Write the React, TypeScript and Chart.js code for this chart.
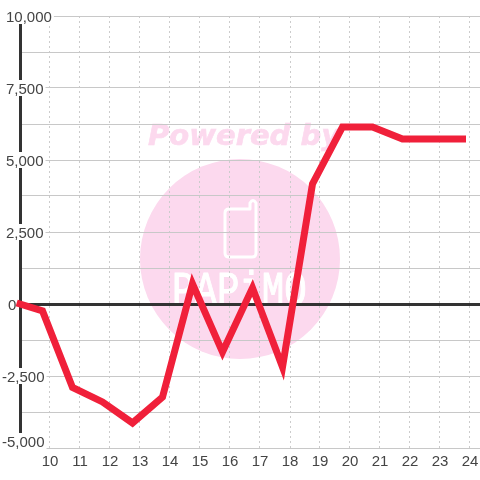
import React, { useEffect, useRef } from "react";
import { Chart, registerables } from "chart.js";

Chart.register(...registerables);

const hours = [9, 9.75, 10.75, 11.75, 12.75, 13.75, 14.75, 15.75, 16.75, 17.75, 18.75, 19.75, 20.75, 21.75, 22.75, 23.75];
const values = [0, -240, -2900, -3400, -4130, -3230, 700, -1670, 560, -2190, 4170, 6150, 6150, 5730, 5730, 5730];
const labelledValues = [10000, 7500, 5000, 2500, 0, -2500, -5000];
const xTicks = [10, 11, 12, 13, 14, 15, 16, 17, 18, 19, 20, 21, 22, 23, 24];

const TEXT = "#444444";
const FONT = "15px 'Liberation Sans'";
const PINK = "#fcd9ee";

const watermark = {
  id: "watermark",
  beforeDraw(chart: any) {
    const c = chart.ctx;
    c.save();
    c.fillStyle = PINK;
    c.strokeStyle = PINK;
    c.lineWidth = 0.6;
    c.font = "italic bold 29px 'DejaVu Sans'";
    c.textAlign = "left";
    c.textBaseline = "alphabetic";
    c.fillText("Powered by", 148, 145);
    c.strokeText("Powered by", 148, 145);
    c.beginPath();
    c.arc(240, 259, 100, 0, Math.PI * 2);
    c.fill();
    c.strokeStyle = "#ffffff";
    c.lineWidth = 3;
    c.lineJoin = "round";
    c.beginPath();
    c.moveTo(229, 209);
    c.lineTo(250, 209);
    c.lineTo(250, 203);
    c.quadraticCurveTo(253, 198, 256, 203);
    c.lineTo(256, 253);
    c.quadraticCurveTo(256, 257, 252, 257);
    c.lineTo(229, 257);
    c.quadraticCurveTo(225, 257, 225, 253);
    c.lineTo(225, 213);
    c.quadraticCurveTo(225, 209, 229, 209);
    c.stroke();
    c.fillStyle = "#ffffff";
    c.lineWidth = 1;
    c.translate(172, 305);
    c.scale(0.78, 1);
    c.font = "48px 'Liberation Mono'";
    c.fillText("PAPiMO", 0, 0);
    c.strokeText("PAPiMO", 0, 0);
    c.restore();
  },
};

const yAxisLine = {
  id: "yAxisLine",
  beforeDatasetsDraw(chart: any) {
    const c = chart.ctx;
    const a = chart.chartArea;
    c.save();
    c.strokeStyle = "#333333";
    c.lineWidth = 3;
    c.beginPath();
    c.moveTo(a.left + 0.5, a.top);
    c.lineTo(a.left + 0.5, a.bottom);
    c.stroke();
    c.restore();
  },
};

const yLabels = {
  id: "yLabels",
  afterDraw(chart: any) {
    const c = chart.ctx;
    const scale = chart.scales.y;
    c.save();
    c.font = FONT;
    c.textBaseline = "middle";
    c.textAlign = "left";
    for (const v of labelledValues) {
      const text = v.toLocaleString("en-US");
      const x = v < 0 ? 2 : v === 0 ? 8 : 6;
      const y = scale.getPixelForValue(v) + (v === scale.min ? -7 : 0);
      const w = c.measureText(text).width;
      if (v !== 0) {
        c.fillStyle = "#ffffff";
        c.fillRect(x - 1, y - 8, w + 3, 16);
      }
      c.fillStyle = TEXT;
      c.fillText(text, x, y + 1.5);
    }
    c.restore();
  },
};

export default function App() {
  const ref = useRef<HTMLCanvasElement>(null);
  useEffect(() => {
    const chart = new Chart(ref.current!, {
      type: "line",
      data: {
        datasets: [
          {
            data: hours.map((h, i) => ({ x: h, y: values[i] })),
            borderColor: "#f0203a",
            borderWidth: 7,
            borderCapStyle: "square",
            borderJoinStyle: "miter",
            pointRadius: 0,
            tension: 0,
            clip: false,
          },
        ],
      },
      options: {
        responsive: false,
        animation: false,
        layout: { padding: { top: 16, left: 0, right: 0, bottom: 0 } },
        plugins: { legend: { display: false }, title: { display: false }, tooltip: { enabled: false } },
        scales: {
          x: {
            type: "linear",
            min: 9,
            max: 9 + 460 / 30,
            afterBuildTicks(s: any) {
              s.ticks = xTicks.map((value) => ({ value }));
            },
            afterFit(s: any) {
              s.height = 32;
              s.paddingLeft = 0;
              s.paddingRight = 0;
            },
            grid: { color: "#cccccc", lineWidth: 1, drawTicks: false },
            border: { display: false, dash: [2, 3] },
            ticks: {
              autoSkip: false,
              maxRotation: 0,
              padding: 5,
              color: TEXT,
              font: { family: "'Liberation Sans'", size: 15 },
              callback: (v: any) => String(v),
            },
          },
          y: {
            type: "linear",
            min: -5000,
            max: 10000,
            afterFit(s: any) {
              s.width = 20;
            },
            grid: {
              color: (ctx: any) => (ctx.tick && ctx.tick.value === 0 ? "#333333" : "#c8c8c8"),
              lineWidth: (ctx: any) => (ctx.tick && ctx.tick.value === 0 ? 3 : 1),
              drawTicks: false,
            },
            border: { display: false },
            ticks: { stepSize: 1250, display: false },
          },
        },
      },
      plugins: [watermark, yAxisLine, yLabels],
    } as any);
    return () => chart.destroy();
  }, []);
  return (
    <canvas
      ref={ref}
      width={480}
      height={480}
      style={{ position: "fixed", left: 0, top: 0, width: 480, height: 480, display: "block" }}
    />
  );
}
